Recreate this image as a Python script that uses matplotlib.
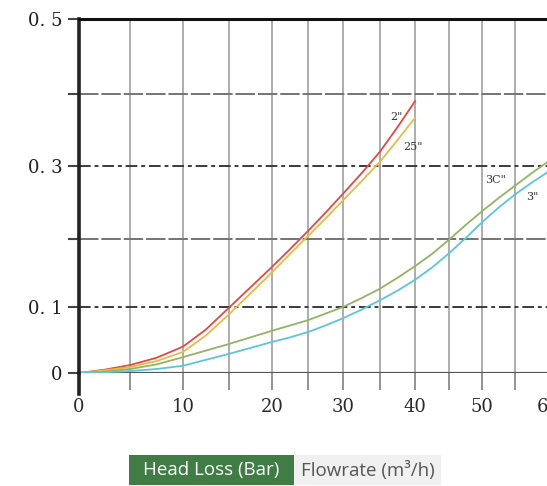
import numpy as np
import matplotlib
matplotlib.use("Agg")
import matplotlib.pyplot as plt
from matplotlib.scale import FuncScale
from matplotlib.patches import Rectangle

# ---------------- data ----------------
flow_small = [0, 2.5, 5, 7.5, 10, 12.5, 15, 17.5, 20, 22.5, 25, 27.5, 30, 32.5, 35, 37.5, 40]
loss_2in   = [0, 0.005, 0.012, 0.023, 0.040, 0.066, 0.099, 0.129, 0.159, 0.185, 0.211, 0.236, 0.262, 0.290, 0.320, 0.354, 0.390]
loss_25in  = [0, 0.004, 0.009, 0.018, 0.032, 0.057, 0.089, 0.120, 0.151, 0.178, 0.204, 0.228, 0.253, 0.279, 0.306, 0.336, 0.367]

flow_large = [0, 2.5, 5, 7.5, 10, 12.5, 15, 17.5, 20, 22.5, 25, 27.5, 30, 32.5, 35, 37.5, 40, 42.5, 45, 47.5, 50, 52.5, 55, 57.5, 60]
loss_3c    = [0, 0.002, 0.006, 0.013, 0.024, 0.034, 0.044, 0.054, 0.064, 0.072, 0.080, 0.090, 0.100, 0.113, 0.127, 0.143, 0.160, 0.178, 0.199, 0.219, 0.238, 0.256, 0.273, 0.290, 0.306]
loss_3in   = [0, 0.001, 0.003, 0.006, 0.011, 0.020, 0.029, 0.038, 0.047, 0.054, 0.062, 0.072, 0.083, 0.096, 0.110, 0.124, 0.140, 0.158, 0.179, 0.201, 0.223, 0.243, 0.261, 0.277, 0.292]

series_labels = ['2"', '25"', '3C"', '3"']

x_ticks = [0, 5, 10, 15, 20, 25, 30, 35, 40, 45, 50, 55, 60]
x_tick_labels = ['0', '', '10', '', '20', '', '30', '', '40', '', '50', '', '60']
y_ticks = [0, 0.1, 0.2, 0.3, 0.4, 0.5]
y_tick_labels = ['0', '0. 1', '', '0. 3', '', '0. 5']

caption_left = 'Head Loss (Bar)'
caption_right = 'Flowrate (m³/h)'

# ------------- the printed chart's (slightly irregular) grid spacing -------------
x_grid_px = [0, 51, 104, 150, 193, 229, 264, 301, 336, 370, 403, 436, 469]
y_grid_px = [0, 66, 134, 207, 279, 353.5]


def piecewise(src, dst):
    src = np.asarray(src, float)
    dst = np.asarray(dst, float)
    s0 = (dst[1] - dst[0]) / (src[1] - src[0])
    s1 = (dst[-1] - dst[-2]) / (src[-1] - src[-2])

    def f(v):
        v = np.asarray(v, float)
        out = np.interp(v, src, dst)
        out = np.where(v < src[0], dst[0] + (v - src[0]) * s0, out)
        out = np.where(v > src[-1], dst[-1] + (v - src[-1]) * s1, out)
        return out
    return f


W, H = 547, 486
fig = plt.figure(figsize=(W / 100, H / 100), dpi=100)
ax = fig.add_axes([79 / W, 1 - 373 / H, (548 - 79) / W, (373 - 19.5) / H])

ax.set_xscale(FuncScale(ax.xaxis, (piecewise(x_ticks, x_grid_px), piecewise(x_grid_px, x_ticks))))
ax.set_yscale(FuncScale(ax.yaxis, (piecewise(y_ticks, y_grid_px), piecewise(y_grid_px, y_ticks))))
ax.set_xlim(0, 59.9)
ax.set_ylim(0, 0.5)

# grid lines
for xv in x_ticks[1:]:
    ax.axvline(xv, color='#a0a0a0', lw=1.2, zorder=1)
for yv in y_ticks[1:-1]:
    if round(yv * 10) % 2 == 1:
        ax.axhline(yv, color='#3a3a3a', lw=1.4, ls=(0, (6, 2, 2, 2)), zorder=1)
    else:
        ax.axhline(yv, color='#747474', lw=1.4, ls=(0, (10, 1.5)), zorder=1)
ax.axhline(0, color='#555555', lw=1.6, zorder=1)

# curves
ax.plot(flow_small, loss_2in, color='#e8473e', lw=1.3, zorder=3)
ax.plot(flow_small, loss_25in, color='#e2bc48', lw=1.3, zorder=3)
ax.plot(flow_large, loss_3c, color='#93b462', lw=1.3, zorder=3)
ax.plot(flow_large, loss_3in, color='#5cc6d6', lw=1.3, zorder=3)

lab_kw = dict(fontsize=8, family='DejaVu Serif', color='#333333', zorder=4)
ax.text(36.4, 0.368, series_labels[0], ha='left', va='center', **lab_kw)
ax.text(38.3, 0.326, series_labels[1], ha='left', va='center', **lab_kw)
ax.text(50.5, 0.281, series_labels[2], ha='left', va='center', **lab_kw)
ax.text(56.7, 0.257, series_labels[3], ha='left', va='center', **lab_kw)

# spines
for s in ('right', 'bottom'):
    ax.spines[s].set_visible(False)
ax.spines['top'].set_linewidth(2.2)
ax.spines['top'].set_color('#111111')
ax.spines['left'].set_linewidth(2.6)
ax.spines['left'].set_color('#222222')
ax.axvline(0, ymin=-0.06, ymax=0, color='#222222', lw=2.6, clip_on=False, zorder=5)

# ticks
ax.set_xticks(x_ticks)
ax.set_xticklabels(x_tick_labels)
ax.set_yticks(y_ticks)
ax.set_yticklabels(y_tick_labels)
ax.tick_params(axis='x', direction='out', length=12, width=1.3, color='#8a8a8a', pad=6,
               labelsize=13, labelcolor='#2a2a2a')
ax.tick_params(axis='y', direction='out', length=8, width=1.5, color='#444444', pad=4,
               labelsize=13, labelcolor='#1e1e1e')
for t in ax.get_xticklabels() + ax.get_yticklabels():
    t.set_family('DejaVu Serif')

# caption tags below the chart
def px_box(x0, x1, y0, y1, color):
    fig.patches.append(Rectangle((x0 / W, 1 - y1 / H), (x1 - x0) / W, (y1 - y0) / H,
                                 transform=fig.transFigure, facecolor=color, edgecolor='none'))

px_box(129, 294, 455, 485, '#3f7d45')
px_box(295, 441, 455, 485, '#f0f0f0')
fig.text((129 + 294) / 2 / W, 1 - 470 / H, caption_left, color='white', fontsize=13.5,
         family='Open Sans', va='center', ha='center')
fig.text((295 + 441) / 2 / W, 1 - 470 / H, caption_right, color='#555555', fontsize=13.5,
         family='Open Sans', va='center', ha='center')

fig.savefig('out.png', dpi=100)
